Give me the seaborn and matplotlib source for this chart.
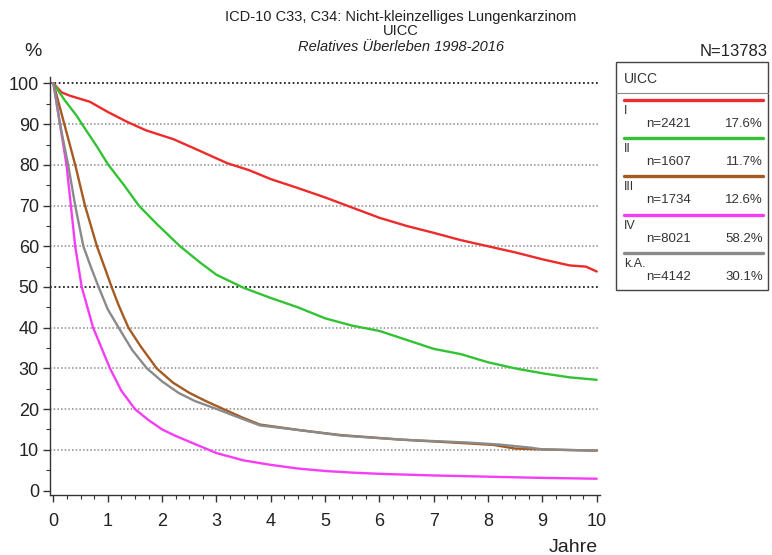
import numpy as np
import pandas as pd
import matplotlib
matplotlib.use("Agg")
import matplotlib.pyplot as plt
from matplotlib.patches import Rectangle
from matplotlib.lines import Line2D
from matplotlib.ticker import MultipleLocator
import seaborn as sns

sns.set_style("white")
plt.rcParams['font.family'] = ['Liberation Sans', 'DejaVu Sans']

# relative survival (%), per UICC stage
t_I = [0, 0.15, 0.3, 0.67, 1.0, 1.35, 1.7, 2.21, 2.6, 3.2, 3.6, 4, 4.5, 5, 5.5, 6, 6.5,
       7, 7.5, 8, 8.5, 9, 9.5, 9.8, 10]
s_I = [100, 97.8, 97, 95.5, 93, 90.6, 88.5, 86.3, 84, 80.4, 78.7, 76.5, 74.3, 72, 69.5,
       67, 65, 63.3, 61.5, 60, 58.5, 56.8, 55.3, 55, 53.8]

t_II = [0, 0.2, 0.43, 0.55, 0.8, 1.01, 1.3, 1.57, 1.9, 2.33, 2.7, 3, 3.5, 4, 4.5,
        5, 5.5, 6, 6.5, 7, 7.5, 8, 8.5, 9, 9.5, 10]
s_II = [100, 96, 92, 89.5, 84.5, 80, 75, 70, 65.5, 60, 56, 53, 49.8, 47.3, 45, 42.3,
        40.5, 39.2, 37, 34.8, 33.5, 31.5, 30, 28.8, 27.8, 27.2]

t_III = [0, 0.2, 0.4, 0.58, 0.8, 0.95, 1.07, 1.2, 1.38, 1.6, 1.9, 2.2, 2.5, 2.8, 3.13,
         3.5, 3.8, 4.55, 5.3, 6.4, 7.6, 8.1, 8.5, 9, 10]
s_III = [100, 90, 80, 70, 60, 54.5, 50, 45.5, 40, 35.5, 30, 26.5, 24, 22, 20, 17.8, 16.2,
         14.8, 13.6, 12.5, 11.6, 11.2, 10.3, 10.1, 9.8]

t_IV = [0, 0.12, 0.24, 0.32, 0.4, 0.52, 0.73, 1.04, 1.25, 1.5, 1.75, 2.0, 2.25, 2.5,
        2.75, 3.0, 3.5, 4, 4.5, 5, 5.5, 6, 7, 8, 9, 10]
s_IV = [100, 90, 80, 70, 60, 50, 40, 30, 24.5, 20, 17.3, 15, 13.4, 12, 10.6, 9.2, 7.4,
        6.3, 5.4, 4.8, 4.4, 4.1, 3.7, 3.4, 3.1, 2.9]

t_kA = [0, 0.12, 0.27, 0.4, 0.55, 0.7, 0.83, 1.0, 1.2, 1.45, 1.72, 2.0, 2.3, 2.6, 3.01,
        3.4, 3.8, 4.55, 5.3, 6.4, 7.6, 8.2, 8.8, 9, 10]
s_kA = [100, 90, 80, 70, 60, 54.5, 50, 44.5, 40, 34.5, 30, 26.8, 24, 22, 20, 18, 16,
        14.8, 13.5, 12.5, 11.8, 11.3, 10.5, 10.1, 9.8]

stages = ["I", "II", "III", "IV", "k.A."]
counts = ["n=2421", "n=1607", "n=1734", "n=8021", "n=4142"]
shares = ["17.6%", "11.7%", "12.6%", "58.2%", "30.1%"]
colors = ["#ee2a2a", "#33c233", "#a55a22", "#f53df5", "#8a8a8a"]

df = pd.concat([
    pd.DataFrame({"Jahre": t, "Ueberleben": s, "UICC": st})
    for t, s, st in zip([t_I, t_II, t_III, t_IV, t_kA],
                        [s_I, s_II, s_III, s_IV, s_kA], stages)
])

W, H = 772, 555
fig = plt.figure(figsize=(W / 100, H / 100), dpi=100)
fx = lambda px: px / W
fy = lambda py: 1 - py / H

ax = fig.add_axes([fx(50), fy(495), (600 - 50) / W, (495 - 76.7) / H])

# dotted reference lines
for y in range(10, 101, 10):
    dark = y in (50, 100)
    ax.axhline(y, color="#222222" if dark else "#8c8c8c", lw=1.3 if dark else 1.1,
               linestyle=(0, (1, 1.4)), zorder=1)

sns.lineplot(data=df, x="Jahre", y="Ueberleben", hue="UICC", palette=colors,
             hue_order=stages, estimator=None, legend=False, linewidth=1.7, ax=ax, zorder=3)

ax.set_xlim(-0.064, 10.06)
ax.set_ylim(-1.1, 101.66)
ax.set_xlabel("")
ax.set_ylabel("")
ax.xaxis.set_major_locator(MultipleLocator(1))
ax.xaxis.set_minor_locator(MultipleLocator(0.25))
ax.yaxis.set_major_locator(MultipleLocator(10))
ax.yaxis.set_minor_locator(MultipleLocator(5))
ax.tick_params(which="major", direction="out", length=5, width=1, colors="#333333",
               labelsize=13, labelcolor="#222222", left=True, bottom=True, pad=3)
ax.tick_params(which="minor", direction="out", length=3, width=0.8, colors="#333333",
               left=True, bottom=True)
ax.tick_params(axis="x", pad=8)
for side in ["top", "right"]:
    ax.spines[side].set_visible(False)
for side in ["left", "bottom"]:
    ax.spines[side].set_color("#333333")
    ax.spines[side].set_linewidth(1)

# titles and axis captions
fig.text(fx(401), fy(17), "ICD-10 C33, C34: Nicht-kleinzelliges Lungenkarzinom",
         ha="center", va="center", fontsize=10.5, color="#222222")
fig.text(fx(401), fy(31), "UICC", ha="center", va="center", fontsize=10.5, color="#222222")
fig.text(fx(401), fy(47), "Relatives Überleben 1998-2016", ha="center", va="center",
         fontsize=10.5, style="italic", color="#222222")
fig.text(fx(33), fy(52), "%", ha="center", va="center", fontsize=14, color="#222222")
fig.text(fx(598), fy(547), "Jahre", ha="right", va="center", fontsize=14, color="#222222")
fig.text(fx(768), fy(51), "N=13783", ha="right", va="center", fontsize=12, color="#222222")

# legend box
fig.add_artist(Rectangle((fx(616), fy(290)), (768 - 616) / W, (290 - 62) / H,
                         transform=fig.transFigure, fill=False, ec="#444444", lw=1))
fig.add_artist(Line2D([fx(616), fx(768)], [fy(93), fy(93)], transform=fig.transFigure,
                      color="#888888", lw=0.8))
fig.text(fx(624), fy(79), "UICC", ha="left", va="center", fontsize=10, color="#333333")
for i, (st, n, sh, c) in enumerate(zip(stages, counts, shares, colors)):
    yl = 100 + i * 38.2
    fig.add_artist(Line2D([fx(624), fx(763)], [fy(yl), fy(yl)], transform=fig.transFigure,
                          color=c, lw=2.4))
    fig.text(fx(624), fy(yl + 11), st, ha="left", va="center", fontsize=9, color="#333333")
    fig.text(fx(646), fy(yl + 24), n, ha="left", va="center", fontsize=9.5, color="#333333")
    fig.text(fx(763), fy(yl + 24), sh, ha="right", va="center", fontsize=9.5, color="#333333")

fig.savefig("out.png", dpi=100)
